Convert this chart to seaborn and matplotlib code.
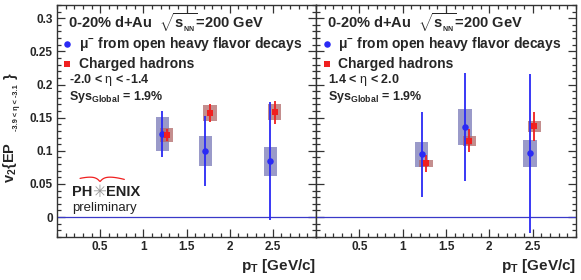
import numpy as np
import matplotlib
matplotlib.use('Agg')
import matplotlib.pyplot as plt
import seaborn as sns
from matplotlib.ticker import MultipleLocator, FuncFormatter

# pT bin centres (hadrons drawn slightly shifted, as in the original)
pt_mu = [1.22, 1.72, 2.47]
pt_h = [1.27, 1.77, 2.52]

# backward rapidity  -2.0 < eta < -1.4
mu_v2_bwd = [0.125, 0.100, 0.084]
mu_stat_bwd = [0.035, 0.053, 0.089]
mu_sys_bwd = [0.0255, 0.023, 0.0215]
h_v2_bwd = [0.124, 0.157, 0.158]
h_stat_bwd = [0.009, 0.0135, 0.017]
h_sys_bwd = [0.010, 0.012, 0.012]

# forward rapidity  1.4 < eta < 2.0
mu_v2_fwd = [0.095, 0.136, 0.096]
mu_stat_fwd = [0.064, 0.082, 0.120]
mu_sys_fwd = [0.019, 0.0265, 0.0205]
h_v2_fwd = [0.081, 0.115, 0.137]
h_stat_fwd = [0.0125, 0.0175, 0.022]
h_sys_fwd = [0.005, 0.0075, 0.0085]

eta_labels = [r'-2.0 < $\eta$ < -1.4', r'1.4 < $\eta$ < 2.0']

blue = '#2a2af5'
red = '#f02020'
blue_box = '#7878b8'
red_box = '#b06868'

sns.set_theme(style='ticks')
plt.rcParams['font.family'] = ['Liberation Sans', 'DejaVu Sans']
plt.rcParams['mathtext.fontset'] = 'custom'
plt.rcParams['mathtext.rm'] = 'Liberation Sans'
plt.rcParams['mathtext.it'] = 'Liberation Sans'
plt.rcParams['mathtext.bf'] = 'Liberation Sans:bold'

fig = plt.figure(figsize=(5.81, 2.80), dpi=100)
ax1 = fig.add_axes([0.0981, 0.1536, 0.4458, 0.8286])
ax2 = fig.add_axes([0.5439, 0.1536, 0.4475, 0.8286])


def draw_panel(ax, mu_v2, mu_stat, mu_sys, h_v2, h_stat, h_sys, eta_txt):
    ax.axhline(0, color='#3a3ac8', lw=0.9, zorder=1)
    # systematic boxes
    mu_sys = np.array(mu_sys)
    h_sys = np.array(h_sys)
    ax.bar(pt_mu, 2 * mu_sys, bottom=np.array(mu_v2) - mu_sys, width=0.155,
           color=blue_box, alpha=0.75, linewidth=0, zorder=2)
    ax.bar(pt_h, 2 * h_sys, bottom=np.array(h_v2) - h_sys, width=0.155,
           color=red_box, alpha=0.75, linewidth=0, zorder=2)
    # stat errors
    ax.errorbar(pt_mu, mu_v2, yerr=mu_stat, fmt='none', ecolor=blue, elinewidth=1.3,
                capsize=0, zorder=3)
    ax.errorbar(pt_h, h_v2, yerr=h_stat, fmt='none', ecolor=red, elinewidth=1.3,
                capsize=0, zorder=3)
    sns.scatterplot(x=pt_mu, y=mu_v2, ax=ax, marker='o', color=blue, s=22,
                    edgecolor=blue, linewidth=0, zorder=4,
                    label=r'$\mathregular{\mu^{-}}$ from open heavy flavor decays')
    sns.scatterplot(x=pt_h, y=h_v2, ax=ax, marker='s', color=red, s=22,
                    edgecolor=red, linewidth=0, zorder=4, label='Charged hadrons')

    ax.set_xlim(0, 3.0)
    ax.set_ylim(-0.03, 0.32)
    ax.set_xticks([0.5, 1, 1.5, 2, 2.5])
    ax.xaxis.set_minor_locator(MultipleLocator(0.1))
    ax.yaxis.set_major_locator(MultipleLocator(0.05))
    ax.yaxis.set_minor_locator(MultipleLocator(0.01))
    fmt = FuncFormatter(lambda v, p: '{:g}'.format(round(v, 3)))
    ax.xaxis.set_major_formatter(fmt)
    ax.yaxis.set_major_formatter(fmt)
    ax.tick_params(which='both', direction='in', top=True, right=True,
                   color='#333333', width=0.9)
    ax.tick_params(which='major', length=5.5, labelsize=8.5, pad=3)
    ax.tick_params(which='minor', length=2.7)
    for lab in ax.get_xticklabels() + ax.get_yticklabels():
        lab.set_fontweight('bold')
    for sp in ax.spines.values():
        sp.set_color('#333333')
        sp.set_linewidth(1.0)

    ax.text(0.041, 0.922, r'0-20% d+Au  $\mathregular{\sqrt{s_{_{NN}}}}$=200 GeV',
            transform=ax.transAxes, fontsize=10.5, fontweight='bold', va='center')
    ax.legend(loc='upper left', bbox_to_anchor=(0.019, 0.872), frameon=False,
              borderpad=0, borderaxespad=0, handlelength=0.8, handletextpad=0.4,
              labelspacing=0.32, prop={'weight': 'bold', 'size': 10})
    ax.text(0.047, 0.677, eta_txt, transform=ax.transAxes, fontsize=9,
            fontweight='bold', va='center')
    ax.text(0.047, 0.605, r'Sys$_{\mathregular{Global}}$ = 1.9%', transform=ax.transAxes,
            fontsize=9, fontweight='bold', va='center')
    ax.set_xlabel(r'p$_{\mathregular{T}}$ [GeV/c]', loc='right', fontsize=11,
                  fontweight='bold', labelpad=3)


draw_panel(ax1, mu_v2_bwd, mu_stat_bwd, mu_sys_bwd, h_v2_bwd, h_stat_bwd, h_sys_bwd,
           eta_labels[0])
draw_panel(ax2, mu_v2_fwd, mu_stat_fwd, mu_sys_fwd, h_v2_fwd, h_stat_fwd, h_sys_fwd,
           eta_labels[1])
ax2.tick_params(labelleft=False)

# y title built from pieces so the subscript can be small, ROOT style
W, H = 581.0, 280.0
fig.text(10 / W, 1 - 183 / H, r'v$_{\mathbf{2}}${EP', rotation=90, fontsize=10.5,
         fontweight='bold', ha='center', va='bottom')
fig.text(16.5 / W, 1 - 131 / H, '-3.9 < \u03b7 < -3.1', rotation=90, fontsize=5.3,
         fontweight='bold', ha='center', va='bottom')
fig.text(11 / W, 1 - 79 / H, '}', rotation=90, fontsize=10.5, fontweight='bold',
         ha='center', va='bottom')

# PHENIX preliminary logo
ax1.text(0.058, 0.194, 'PH', transform=ax1.transAxes, fontsize=10.5, fontweight='bold',
         va='center', color='#222222')
ax1.text(0.164, 0.194, '\u2733', transform=ax1.transAxes, fontsize=12, ha='center',
         va='center', color='#999999', family='DejaVu Sans')
ax1.text(0.190, 0.194, 'ENIX', transform=ax1.transAxes, fontsize=10.5, fontweight='bold',
         va='center', color='#222222')
ax1.text(0.058, 0.127, 'preliminary', transform=ax1.transAxes, fontsize=9.5,
         va='center', color='#222222')
arc_x = np.linspace(0.089, 0.26, 60)
arc_y = 0.262 - 0.010 * ((arc_x - 0.166) / 0.08) ** 2 \
    - 0.024 * np.exp(-np.abs(arc_x - 0.166) / 0.015)
ax1.plot(arc_x, arc_y, transform=ax1.transAxes, color=red, lw=0.9, clip_on=False)

fig.savefig('out.png', dpi=100)
